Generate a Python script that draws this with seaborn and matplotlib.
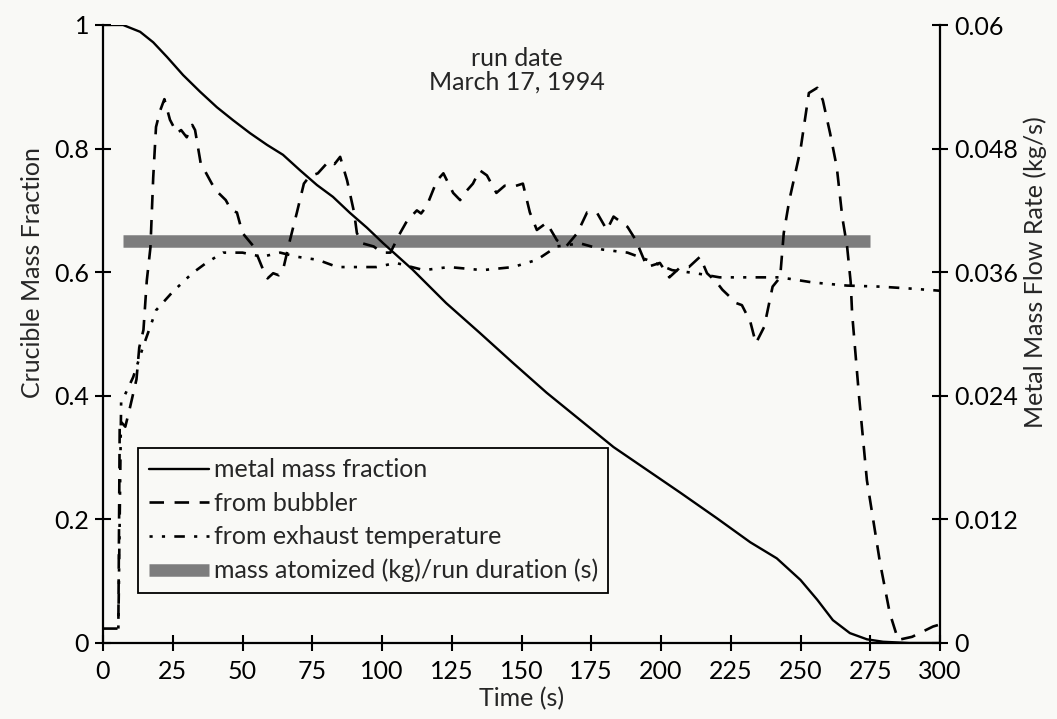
import matplotlib
matplotlib.use("Agg")
import matplotlib.pyplot as plt
import seaborn as sns
import numpy as np
from matplotlib.lines import Line2D

# ---------------- data ----------------
t_metal = [0, 7.2, 13.3, 18, 23, 28.7, 34.8, 40.8, 46.6, 52.7, 58.8, 64.5, 70.6, 76.7,
           82.4, 88.5, 94.6, 100.4, 111, 123, 135, 147, 159, 171, 183, 195, 207, 220,
           232, 241.5, 250, 256, 261.6, 267.7, 273.8, 279.6, 289, 300]
metal_fraction = [1.0, 1.0, 0.989, 0.972, 0.948, 0.919, 0.892, 0.867, 0.846, 0.825,
                  0.806, 0.79, 0.765, 0.741, 0.722, 0.696, 0.672, 0.647, 0.604, 0.55,
                  0.502, 0.453, 0.405, 0.361, 0.317, 0.28, 0.243, 0.202, 0.163, 0.137,
                  0.102, 0.07, 0.037, 0.016, 0.006, 0.002, 0.0, 0.0]

t_bubbler = [0, 5.5, 6, 8, 9.7, 12, 13, 14.5, 15.7, 17, 18, 19, 20.5, 22, 24, 26.5, 28,
             30, 32, 33, 35, 37, 39, 41, 44, 46, 48, 50, 54, 57, 59, 61, 63, 64.5, 67,
             69.5, 72, 74, 77, 79, 81, 83, 85, 87.5, 90, 91, 93, 97, 100, 103, 106.5,
             109, 112.5, 114, 116, 119.7, 122, 125.5, 128, 130, 132.6, 135, 137.6, 141,
             144, 147, 150.5, 153, 155.5, 159, 162.7, 166, 170, 173.5, 177, 180.6, 183,
             188, 191, 195, 199.6, 203, 207, 210, 214, 216.5, 220, 222, 224.7, 227, 229,
             232, 234, 237, 240, 242.7, 244, 246, 250, 253, 256, 258, 260.6, 263, 265,
             266.7, 268, 268.5, 271, 273.8, 278.5, 282, 285, 290, 297.5, 300]
flow_bubbler = [0.0014, 0.0014, 0.0216, 0.0210, 0.0229, 0.0256, 0.0287, 0.0304, 0.0352,
                0.0384, 0.0452, 0.0501, 0.0517, 0.0528, 0.0508, 0.0495, 0.0498, 0.0491,
                0.0503, 0.0498, 0.0466, 0.0456, 0.0446, 0.0438, 0.0430, 0.0420, 0.0418,
                0.0398, 0.0385, 0.0365, 0.0354, 0.0359, 0.0357, 0.0362, 0.0391, 0.0418,
                0.0446, 0.0453, 0.0456, 0.0462, 0.0468, 0.0465, 0.0472, 0.0449, 0.0418,
                0.0398, 0.0388, 0.0385, 0.0379, 0.0379, 0.0398, 0.0410, 0.0420, 0.0417,
                0.0424, 0.0449, 0.0456, 0.0437, 0.0430, 0.0438, 0.0446, 0.0459, 0.0454,
                0.0437, 0.0444, 0.0443, 0.0446, 0.0418, 0.0401, 0.0408, 0.0391, 0.0385,
                0.0398, 0.0418, 0.0418, 0.0401, 0.0414, 0.0404, 0.0391, 0.0365, 0.0369,
                0.0355, 0.0365, 0.0365, 0.0375, 0.0359, 0.0350, 0.0343, 0.0336, 0.0330,
                0.0328, 0.0312, 0.0291, 0.0307, 0.0346, 0.0355, 0.0398, 0.0430, 0.0479,
                0.0534, 0.0539, 0.0527, 0.0495, 0.0462, 0.0413, 0.0385, 0.0350, 0.0320,
                0.0239, 0.0158, 0.0078, 0.0029, 0.0003, 0.0006, 0.0016, 0.0018]

t_exhaust = [5.5, 6.5, 7, 10.8, 14.3, 19, 25, 32, 37, 43, 50, 57, 63.5, 69.5, 77, 84, 91,
             98, 105, 115, 124, 136, 147, 155.5, 162.7, 171, 179, 188, 195, 204, 212.5,
             221, 231, 242.7, 254.5, 266.7, 278.5, 290, 300]
flow_exhaust = [0.0014, 0.0234, 0.0236, 0.0258, 0.0287, 0.0323, 0.0341, 0.0359, 0.0369,
                0.0379, 0.0379, 0.0375, 0.0379, 0.0375, 0.0372, 0.0365, 0.0365, 0.0365,
                0.0369, 0.0362, 0.0365, 0.0362, 0.0365, 0.0372, 0.0385, 0.0388, 0.0382,
                0.0379, 0.0372, 0.0362, 0.0359, 0.0355, 0.0355, 0.0355, 0.0350, 0.0347,
                0.0346, 0.0344, 0.0342]

t_run = [7, 275]
mean_rate = [0.039, 0.039]

x_ticks = [0, 25, 50, 75, 100, 125, 150, 175, 200, 225, 250, 275, 300]
left_ticks = [0, 0.2, 0.4, 0.6, 0.8, 1]
left_labels = ["0", "0.2", "0.4", "0.6", "0.8", "1"]
right_ticks = [0, 0.012, 0.024, 0.036, 0.048, 0.06]
right_labels = ["0", "0.012", "0.024", "0.036", "0.048", "0.06"]

legend_labels = ["metal mass fraction", "from bubbler", "from exhaust temperature",
                 "mass atomized (kg)/run duration (s)"]

# ---------------- style ----------------
sns.set_theme(style="ticks")
plt.rcParams['font.family'] = ['Lato', 'DejaVu Sans']
bg = '#f9f9f6'
FS = 18
BAR = '#7d7d7d'

fig = plt.figure(figsize=(10.57, 7.19), dpi=100, facecolor=bg)
ax = fig.add_axes([103/1057, 1 - 643/719, (940-103)/1057, (643-25)/719])
ax2 = ax.twinx()

dash_style = (0, (5.5, 4))
dot_style = (0, (1.2, 3.5, 1.2, 3.5, 4, 3.5))

sns.lineplot(x=t_metal, y=metal_fraction, ax=ax, color='black', lw=1.7)
sns.lineplot(x=t_run, y=mean_rate, ax=ax2, color=BAR, lw=9, solid_capstyle='butt')
sns.lineplot(x=t_bubbler, y=flow_bubbler, ax=ax2, color='black', lw=1.9, linestyle=dash_style)
sns.lineplot(x=t_exhaust, y=flow_exhaust, ax=ax2, color='black', lw=1.9, linestyle=dot_style)

ax.set_xlim(0, 300)
ax.set_ylim(0, 1)
ax2.set_ylim(0, 0.06)
ax.set_xticks(x_ticks)
ax.set_xticklabels([str(v) for v in x_ticks])
ax.set_yticks(left_ticks)
ax.set_yticklabels(left_labels)
ax2.set_yticks(right_ticks)
ax2.set_yticklabels(right_labels)

for a in (ax, ax2):
    a.spines['top'].set_visible(False)
    for s in a.spines.values():
        s.set_linewidth(1.6)
        s.set_color('black')
    a.tick_params(direction='inout', length=12, width=1.5, colors='black',
                  labelsize=FS, pad=4)
ax.tick_params(axis='x', pad=6)
ax2.spines['left'].set_visible(False)
ax.spines['right'].set_visible(False)
ax2.spines['bottom'].set_visible(False)

ax.set_xlabel("Time (s)", fontsize=FS, labelpad=3)
ax.set_ylabel("Crucible Mass Fraction", fontsize=FS, labelpad=7, y=0.6)
ax2.set_ylabel("Metal Mass Flow Rate (kg/s)", fontsize=FS, labelpad=4, y=0.6)

ax.text(148.5, 0.927, "run date\nMarch 17, 1994", ha='center', va='center',
        fontsize=FS, linespacing=1.0)

handles = [
    Line2D([0], [0], color='black', lw=1.7),
    Line2D([0], [0], color='black', lw=1.9, linestyle=dash_style),
    Line2D([0], [0], color='black', lw=1.9, linestyle=dot_style),
    Line2D([0], [0], color=BAR, lw=9, solid_capstyle='butt'),
]
leg = ax.legend(handles, legend_labels, loc='lower left',
                bbox_to_anchor=(0.042, 0.081), borderaxespad=0, frameon=True,
                fancybox=False, edgecolor='black', facecolor=bg, framealpha=1,
                fontsize=FS, handlelength=2.4, handletextpad=0.2,
                labelspacing=0.42, borderpad=0.42)
leg.get_frame().set_linewidth(1.3)
ax.set_zorder(ax2.get_zorder() + 1)
ax.patch.set_visible(False)
ax2.patch.set_visible(True)
ax2.patch.set_facecolor(bg)

fig.savefig("out.png", dpi=100, facecolor=bg)
